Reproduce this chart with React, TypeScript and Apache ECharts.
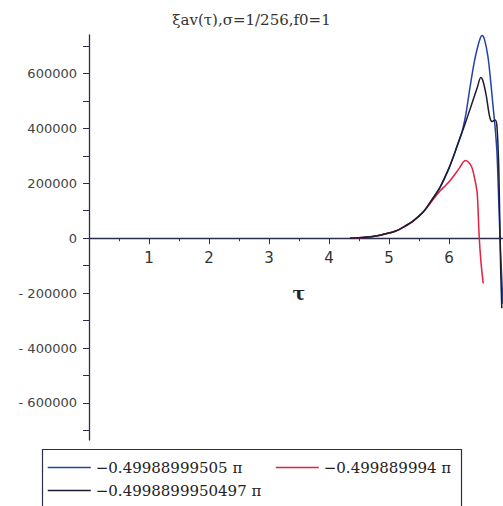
import React, { useEffect, useRef } from "react";
import * as echarts from "echarts";

const titleText = "ξav(τ),σ=1/256,f0=1";
const seriesNames = ["−0.49988999505 π", "−0.499889994 π", "−0.4998899950497 π"];
const seriesColors = ["#2344a6", "#e3203f", "#1b1c30"];

const blueTau = [4.35, 4.6, 4.85, 5.1, 5.3, 5.4, 5.57, 5.7, 5.85, 6.0, 6.07, 6.15, 6.22, 6.28, 6.35, 6.42, 6.47, 6.52, 6.55, 6.59, 6.65, 6.7, 6.73, 6.77, 6.8, 6.83, 6.86, 6.9];
const blueVal = [0, 3000, 11000, 25000, 48000, 62000, 95000, 135000, 185000, 255000, 295000, 345000, 390000, 450000, 549000, 640000, 690000, 728000, 738000, 725000, 660000, 560000, 490000, 400000, 309000, 130000, -55000, -240000];

const redTau = [4.35, 4.6, 4.85, 5.1, 5.3, 5.4, 5.57, 5.65, 5.75, 5.85, 5.95, 6.02, 6.1, 6.18, 6.24, 6.27, 6.32, 6.38, 6.43, 6.47, 6.5, 6.53, 6.57];
const redVal = [0, 3000, 11000, 25000, 48000, 62000, 95000, 116000, 145000, 172000, 194000, 210000, 233000, 258000, 278000, 283000, 278000, 258000, 215000, 164000, 20000, -80000, -165000];

const blackTau = [4.35, 4.6, 4.85, 5.1, 5.3, 5.4, 5.57, 5.7, 5.85, 6.0, 6.07, 6.15, 6.23, 6.32, 6.4, 6.47, 6.53, 6.57, 6.62, 6.68, 6.72, 6.77, 6.8, 6.83, 6.86, 6.88];
const blackVal = [0, 3000, 11000, 25000, 48000, 62000, 95000, 135000, 185000, 255000, 295000, 345000, 393000, 450000, 502000, 548000, 585000, 570000, 520000, 440000, 425000, 430000, 405000, 250000, -100000, -255000];

const yTickValues = [-700000, -600000, -500000, -400000, -300000, -200000, -100000, 0, 100000, 200000, 300000, 400000, 500000, 600000, 700000];
const yLabelValues = [-600000, -400000, -200000, 0, 200000, 400000, 600000];

const zip = (xs: number[], ys: number[]) => xs.map((x, i) => [x, ys[i]]);

const axisColor = "#2b2f4a";
const Y_MIN = -735000;
const Y_MAX = 740000;

export default function App() {
  const ref = useRef<HTMLDivElement>(null);
  useEffect(() => {
    if (!ref.current) return;
    const chart = echarts.init(ref.current, undefined, { renderer: "svg", width: 503, height: 506 });
    const datasets = [zip(blueTau, blueVal), zip(redTau, redVal), zip(blackTau, blackVal)];
    const legendPos = [
      { left: 47, top: 460 },
      { left: 275, top: 460 },
      { left: 47, top: 483 },
    ];
    const top = 35;
    const height = 405;
    const zeroY = top + (Y_MAX / (Y_MAX - Y_MIN)) * height;
    chart.setOption({
      animation: false,
      backgroundColor: "#ffffff",
      title: {
        text: titleText,
        left: "center",
        top: 7,
        textStyle: { fontFamily: "DejaVu Serif", fontSize: 15, fontWeight: "normal", color: "#333" },
      },
      grid: [
        { left: 89, right: -6, top, bottom: 506 - top - height, containLabel: false, outerBoundsMode: "none" },
        { left: 89, right: -6, top, bottom: 506 - zeroY, containLabel: false, outerBoundsMode: "none" },
      ],
      xAxis: [
        {
          gridIndex: 0,
          type: "value",
          min: 0,
          max: 7,
          show: false,
          splitLine: { show: false },
        },
        {
          gridIndex: 1,
          type: "value",
          min: 0,
          max: 7,
          interval: 1,
          name: "τ",
          nameLocation: "middle",
          nameGap: 45,
          nameTextStyle: { fontFamily: "DejaVu Serif", fontSize: 19, fontWeight: "bold", color: "#222" },
          axisLine: { show: true, onZero: false, lineStyle: { color: axisColor, width: 1.3 } },
          axisTick: { show: true, length: 6, lineStyle: { color: axisColor } },
          minorTick: { show: true, splitNumber: 2, length: 3, lineStyle: { color: axisColor } },
          axisLabel: {
            margin: 12,
            fontFamily: "DejaVu Sans",
            fontSize: 15,
            color: "#333",
            formatter: (v: number) => (v > 0 && v < 7 ? String(v) : ""),
          },
          splitLine: { show: false },
          minorSplitLine: { show: false },
        },
      ],
      yAxis: [
        {
          gridIndex: 0,
          type: "value",
          min: Y_MIN,
          max: Y_MAX,
          axisLine: { show: true, onZero: false, lineStyle: { color: axisColor, width: 1.3 } },
          axisTick: { show: true, length: 6, customValues: yTickValues, lineStyle: { color: axisColor } },
          axisLabel: {
            margin: 12,
            customValues: yLabelValues,
            fontFamily: "DejaVu Sans",
            fontSize: 13,
            color: "#444",
            formatter: (v: number) => (v < 0 ? "- " + Math.abs(v) : String(v)),
          },
          splitLine: { show: false },
        },
        {
          gridIndex: 1,
          type: "value",
          min: 0,
          max: Y_MAX,
          show: false,
          splitLine: { show: false },
        },
      ],
      legend: seriesNames.map((n, i) => ({
        data: [n],
        left: legendPos[i].left,
        top: legendPos[i].top,
        padding: 0,
        itemWidth: 43,
        itemHeight: 14,
        itemGap: 0,
        itemStyle: { opacity: 0 },
        lineStyle: { width: 1.5 },
        textStyle: { fontFamily: "DejaVu Serif", fontSize: 15, color: "#222" },
      })),
      graphic: [
        {
          type: "rect",
          shape: { x: 42.5, y: 449.5, width: 419, height: 70 },
          style: { fill: "none", stroke: axisColor, lineWidth: 1.2 },
        },
      ],
      series: seriesNames.map((n, i) => ({
        name: n,
        type: "line",
        xAxisIndex: 0,
        yAxisIndex: 0,
        data: datasets[i],
        symbol: "none",
        smooth: 0.3,
        clip: false,
        lineStyle: { color: seriesColors[i], width: 1.5 },
        itemStyle: { color: seriesColors[i] },
        z: i === 2 ? 4 : 2,
      })),
    });
    return () => chart.dispose();
  }, []);
  return (
    <div
      ref={ref}
      style={{ position: "absolute", left: 0, top: 0, width: 503, height: 506, overflow: "visible" }}
    />
  );
}
